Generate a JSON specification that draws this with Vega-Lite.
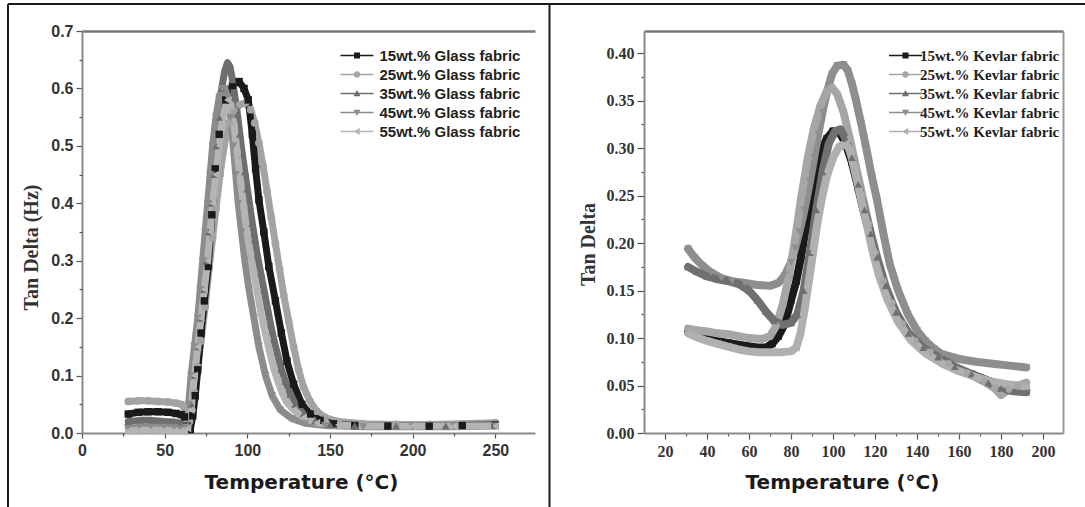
{
  "$schema": "https://vega.github.io/schema/vega-lite/v6.json",
  "background": "white",
  "padding": {"left": 6, "top": 3, "right": 0, "bottom": 0},
  "bounds": "flush",
  "spacing": 109,
  "config": {
    "view": {"stroke": null},
    "axis": {"labelFlush": false, "labelOverlap": false, "grid": false, "domainColor": "#8a8a8a", "domainWidth": 2, "tickColor": "#555", "tickWidth": 1.2}
  },
  "datasets": {
    "glass": [
      {"s":"25wt.% Glass fabric","t":28,"v":0.055},{"s":"25wt.% Glass fabric","t":34,"v":0.056},{"s":"25wt.% Glass fabric","t":40,"v":0.056},{"s":"25wt.% Glass fabric","t":46,"v":0.055},{"s":"25wt.% Glass fabric","t":52,"v":0.054},{"s":"25wt.% Glass fabric","t":57,"v":0.052},{"s":"25wt.% Glass fabric","t":60,"v":0.05},{"s":"25wt.% Glass fabric","t":62,"v":0.044},{"s":"25wt.% Glass fabric","t":63.5,"v":0.025},{"s":"25wt.% Glass fabric","t":65,"v":0.02},{"s":"25wt.% Glass fabric","t":66.5,"v":0.04},{"s":"25wt.% Glass fabric","t":68,"v":0.07},{"s":"25wt.% Glass fabric","t":70,"v":0.115},{"s":"25wt.% Glass fabric","t":72,"v":0.16},{"s":"25wt.% Glass fabric","t":74.5,"v":0.22},{"s":"25wt.% Glass fabric","t":77,"v":0.29},{"s":"25wt.% Glass fabric","t":79,"v":0.34},{"s":"25wt.% Glass fabric","t":81,"v":0.39},{"s":"25wt.% Glass fabric","t":83.5,"v":0.45},{"s":"25wt.% Glass fabric","t":86,"v":0.5},{"s":"25wt.% Glass fabric","t":89,"v":0.54},{"s":"25wt.% Glass fabric","t":92,"v":0.56},{"s":"25wt.% Glass fabric","t":95.5,"v":0.572},{"s":"25wt.% Glass fabric","t":99,"v":0.575},{"s":"25wt.% Glass fabric","t":102,"v":0.563},{"s":"25wt.% Glass fabric","t":104.5,"v":0.54},{"s":"25wt.% Glass fabric","t":107,"v":0.505},{"s":"25wt.% Glass fabric","t":109.5,"v":0.465},{"s":"25wt.% Glass fabric","t":112,"v":0.42},{"s":"25wt.% Glass fabric","t":114.5,"v":0.375},{"s":"25wt.% Glass fabric","t":117,"v":0.33},{"s":"25wt.% Glass fabric","t":119.5,"v":0.285},{"s":"25wt.% Glass fabric","t":122,"v":0.24},{"s":"25wt.% Glass fabric","t":125,"v":0.195},{"s":"25wt.% Glass fabric","t":128,"v":0.15},{"s":"25wt.% Glass fabric","t":131,"v":0.11},{"s":"25wt.% Glass fabric","t":134,"v":0.08},{"s":"25wt.% Glass fabric","t":138,"v":0.055},{"s":"25wt.% Glass fabric","t":142,"v":0.038},{"s":"25wt.% Glass fabric","t":147,"v":0.027},{"s":"25wt.% Glass fabric","t":155,"v":0.02},{"s":"25wt.% Glass fabric","t":170,"v":0.016},{"s":"25wt.% Glass fabric","t":190,"v":0.015},{"s":"25wt.% Glass fabric","t":210,"v":0.015},{"s":"25wt.% Glass fabric","t":230,"v":0.016},{"s":"25wt.% Glass fabric","t":250,"v":0.018},
      {"s":"15wt.% Glass fabric","t":28,"v":0.033},{"s":"15wt.% Glass fabric","t":34,"v":0.036},{"s":"15wt.% Glass fabric","t":40,"v":0.037},{"s":"15wt.% Glass fabric","t":46,"v":0.037},{"s":"15wt.% Glass fabric","t":52,"v":0.036},{"s":"15wt.% Glass fabric","t":57,"v":0.034},{"s":"15wt.% Glass fabric","t":60,"v":0.032},{"s":"15wt.% Glass fabric","t":62,"v":0.028},{"s":"15wt.% Glass fabric","t":63.5,"v":0.012},{"s":"15wt.% Glass fabric","t":65.5,"v":0.006},{"s":"15wt.% Glass fabric","t":67,"v":0.03},{"s":"15wt.% Glass fabric","t":68.5,"v":0.065},{"s":"15wt.% Glass fabric","t":70,"v":0.11},{"s":"15wt.% Glass fabric","t":72,"v":0.174},{"s":"15wt.% Glass fabric","t":74,"v":0.23},{"s":"15wt.% Glass fabric","t":76.4,"v":0.29},{"s":"15wt.% Glass fabric","t":78.5,"v":0.38},{"s":"15wt.% Glass fabric","t":80.6,"v":0.46},{"s":"15wt.% Glass fabric","t":83,"v":0.52},{"s":"15wt.% Glass fabric","t":87,"v":0.58},{"s":"15wt.% Glass fabric","t":91,"v":0.605},{"s":"15wt.% Glass fabric","t":95,"v":0.612},{"s":"15wt.% Glass fabric","t":98,"v":0.6},{"s":"15wt.% Glass fabric","t":100.6,"v":0.58},{"s":"15wt.% Glass fabric","t":103,"v":0.52},{"s":"15wt.% Glass fabric","t":105,"v":0.46},{"s":"15wt.% Glass fabric","t":107,"v":0.406},{"s":"15wt.% Glass fabric","t":110,"v":0.35},{"s":"15wt.% Glass fabric","t":113,"v":0.29},{"s":"15wt.% Glass fabric","t":117,"v":0.23},{"s":"15wt.% Glass fabric","t":120.6,"v":0.174},{"s":"15wt.% Glass fabric","t":124,"v":0.125},{"s":"15wt.% Glass fabric","t":128,"v":0.085},{"s":"15wt.% Glass fabric","t":133,"v":0.05},{"s":"15wt.% Glass fabric","t":138,"v":0.033},{"s":"15wt.% Glass fabric","t":144,"v":0.022},{"s":"15wt.% Glass fabric","t":152,"v":0.016},{"s":"15wt.% Glass fabric","t":165,"v":0.013},{"s":"15wt.% Glass fabric","t":185,"v":0.012},{"s":"15wt.% Glass fabric","t":210,"v":0.012},{"s":"15wt.% Glass fabric","t":230,"v":0.013},{"s":"15wt.% Glass fabric","t":250,"v":0.014},
      {"s":"35wt.% Glass fabric","t":28,"v":0.02},{"s":"35wt.% Glass fabric","t":35,"v":0.022},{"s":"35wt.% Glass fabric","t":42,"v":0.022},{"s":"35wt.% Glass fabric","t":50,"v":0.02},{"s":"35wt.% Glass fabric","t":56,"v":0.019},{"s":"35wt.% Glass fabric","t":60,"v":0.017},{"s":"35wt.% Glass fabric","t":62,"v":0.012},{"s":"35wt.% Glass fabric","t":64,"v":0.015},{"s":"35wt.% Glass fabric","t":66,"v":0.05},{"s":"35wt.% Glass fabric","t":68,"v":0.1},{"s":"35wt.% Glass fabric","t":70,"v":0.15},{"s":"35wt.% Glass fabric","t":71.5,"v":0.2},{"s":"35wt.% Glass fabric","t":73.2,"v":0.25},{"s":"35wt.% Glass fabric","t":75,"v":0.3},{"s":"35wt.% Glass fabric","t":76.5,"v":0.35},{"s":"35wt.% Glass fabric","t":78,"v":0.4},{"s":"35wt.% Glass fabric","t":79.5,"v":0.45},{"s":"35wt.% Glass fabric","t":81,"v":0.5},{"s":"35wt.% Glass fabric","t":82.8,"v":0.55},{"s":"35wt.% Glass fabric","t":84.5,"v":0.6},{"s":"35wt.% Glass fabric","t":86.3,"v":0.63},{"s":"35wt.% Glass fabric","t":88,"v":0.645},{"s":"35wt.% Glass fabric","t":89.5,"v":0.638},{"s":"35wt.% Glass fabric","t":91,"v":0.615},{"s":"35wt.% Glass fabric","t":92.5,"v":0.585},{"s":"35wt.% Glass fabric","t":94,"v":0.555},{"s":"35wt.% Glass fabric","t":95.5,"v":0.52},{"s":"35wt.% Glass fabric","t":97,"v":0.485},{"s":"35wt.% Glass fabric","t":98.5,"v":0.455},{"s":"35wt.% Glass fabric","t":100,"v":0.425},{"s":"35wt.% Glass fabric","t":101.5,"v":0.395},{"s":"35wt.% Glass fabric","t":103,"v":0.365},{"s":"35wt.% Glass fabric","t":104.5,"v":0.338},{"s":"35wt.% Glass fabric","t":106,"v":0.31},{"s":"35wt.% Glass fabric","t":108,"v":0.28},{"s":"35wt.% Glass fabric","t":110,"v":0.25},{"s":"35wt.% Glass fabric","t":112,"v":0.22},{"s":"35wt.% Glass fabric","t":114,"v":0.19},{"s":"35wt.% Glass fabric","t":116,"v":0.163},{"s":"35wt.% Glass fabric","t":118,"v":0.14},{"s":"35wt.% Glass fabric","t":120.5,"v":0.112},{"s":"35wt.% Glass fabric","t":123,"v":0.09},{"s":"35wt.% Glass fabric","t":126,"v":0.068},{"s":"35wt.% Glass fabric","t":129,"v":0.05},{"s":"35wt.% Glass fabric","t":134,"v":0.033},{"s":"35wt.% Glass fabric","t":141,"v":0.021},{"s":"35wt.% Glass fabric","t":150,"v":0.015},{"s":"35wt.% Glass fabric","t":165,"v":0.013},{"s":"35wt.% Glass fabric","t":190,"v":0.012},{"s":"35wt.% Glass fabric","t":220,"v":0.012},{"s":"35wt.% Glass fabric","t":250,"v":0.013},
      {"s":"45wt.% Glass fabric","t":28,"v":0.008},{"s":"45wt.% Glass fabric","t":35,"v":0.01},{"s":"45wt.% Glass fabric","t":42,"v":0.01},{"s":"45wt.% Glass fabric","t":50,"v":0.01},{"s":"45wt.% Glass fabric","t":56,"v":0.009},{"s":"45wt.% Glass fabric","t":60,"v":0.007},{"s":"45wt.% Glass fabric","t":62,"v":0.005},{"s":"45wt.% Glass fabric","t":63,"v":0.01},{"s":"45wt.% Glass fabric","t":64.5,"v":0.05},{"s":"45wt.% Glass fabric","t":66,"v":0.1},{"s":"45wt.% Glass fabric","t":68,"v":0.15},{"s":"45wt.% Glass fabric","t":70,"v":0.2},{"s":"45wt.% Glass fabric","t":71.5,"v":0.25},{"s":"45wt.% Glass fabric","t":73,"v":0.3},{"s":"45wt.% Glass fabric","t":74.5,"v":0.35},{"s":"45wt.% Glass fabric","t":76,"v":0.4},{"s":"45wt.% Glass fabric","t":77.5,"v":0.45},{"s":"45wt.% Glass fabric","t":79,"v":0.5},{"s":"45wt.% Glass fabric","t":81,"v":0.55},{"s":"45wt.% Glass fabric","t":83,"v":0.585},{"s":"45wt.% Glass fabric","t":85,"v":0.6},{"s":"45wt.% Glass fabric","t":86.5,"v":0.6},{"s":"45wt.% Glass fabric","t":88,"v":0.585},{"s":"45wt.% Glass fabric","t":90,"v":0.55},{"s":"45wt.% Glass fabric","t":91.5,"v":0.5},{"s":"45wt.% Glass fabric","t":93,"v":0.45},{"s":"45wt.% Glass fabric","t":94.5,"v":0.4},{"s":"45wt.% Glass fabric","t":96.5,"v":0.35},{"s":"45wt.% Glass fabric","t":98.5,"v":0.3},{"s":"45wt.% Glass fabric","t":101,"v":0.25},{"s":"45wt.% Glass fabric","t":104,"v":0.2},{"s":"45wt.% Glass fabric","t":107,"v":0.15},{"s":"45wt.% Glass fabric","t":111,"v":0.1},{"s":"45wt.% Glass fabric","t":115,"v":0.065},{"s":"45wt.% Glass fabric","t":120,"v":0.04},{"s":"45wt.% Glass fabric","t":127,"v":0.025},{"s":"45wt.% Glass fabric","t":135,"v":0.017},{"s":"45wt.% Glass fabric","t":147,"v":0.013},{"s":"45wt.% Glass fabric","t":170,"v":0.011},{"s":"45wt.% Glass fabric","t":200,"v":0.011},{"s":"45wt.% Glass fabric","t":225,"v":0.011},{"s":"45wt.% Glass fabric","t":250,"v":0.012},
      {"s":"55wt.% Glass fabric","t":28,"v":0.004},{"s":"55wt.% Glass fabric","t":35,"v":0.005},{"s":"55wt.% Glass fabric","t":42,"v":0.005},{"s":"55wt.% Glass fabric","t":50,"v":0.005},{"s":"55wt.% Glass fabric","t":56,"v":0.004},{"s":"55wt.% Glass fabric","t":60,"v":0.004},{"s":"55wt.% Glass fabric","t":62,"v":0.003},{"s":"55wt.% Glass fabric","t":64,"v":0.008},{"s":"55wt.% Glass fabric","t":66,"v":0.04},{"s":"55wt.% Glass fabric","t":68,"v":0.1},{"s":"55wt.% Glass fabric","t":70,"v":0.15},{"s":"55wt.% Glass fabric","t":72,"v":0.2},{"s":"55wt.% Glass fabric","t":74,"v":0.25},{"s":"55wt.% Glass fabric","t":76,"v":0.3},{"s":"55wt.% Glass fabric","t":77.5,"v":0.35},{"s":"55wt.% Glass fabric","t":79,"v":0.4},{"s":"55wt.% Glass fabric","t":81,"v":0.45},{"s":"55wt.% Glass fabric","t":83,"v":0.5},{"s":"55wt.% Glass fabric","t":84.5,"v":0.535},{"s":"55wt.% Glass fabric","t":86,"v":0.56},{"s":"55wt.% Glass fabric","t":88,"v":0.58},{"s":"55wt.% Glass fabric","t":90,"v":0.57},{"s":"55wt.% Glass fabric","t":92,"v":0.535},{"s":"55wt.% Glass fabric","t":94,"v":0.485},{"s":"55wt.% Glass fabric","t":96,"v":0.435},{"s":"55wt.% Glass fabric","t":98,"v":0.39},{"s":"55wt.% Glass fabric","t":100,"v":0.345},{"s":"55wt.% Glass fabric","t":102,"v":0.31},{"s":"55wt.% Glass fabric","t":104,"v":0.277},{"s":"55wt.% Glass fabric","t":106,"v":0.245},{"s":"55wt.% Glass fabric","t":108,"v":0.213},{"s":"55wt.% Glass fabric","t":110,"v":0.185},{"s":"55wt.% Glass fabric","t":112,"v":0.16},{"s":"55wt.% Glass fabric","t":114,"v":0.135},{"s":"55wt.% Glass fabric","t":116,"v":0.112},{"s":"55wt.% Glass fabric","t":118.5,"v":0.09},{"s":"55wt.% Glass fabric","t":121,"v":0.07},{"s":"55wt.% Glass fabric","t":124,"v":0.053},{"s":"55wt.% Glass fabric","t":128,"v":0.04},{"s":"55wt.% Glass fabric","t":134,"v":0.027},{"s":"55wt.% Glass fabric","t":142,"v":0.018},{"s":"55wt.% Glass fabric","t":155,"v":0.014},{"s":"55wt.% Glass fabric","t":175,"v":0.012},{"s":"55wt.% Glass fabric","t":200,"v":0.012},{"s":"55wt.% Glass fabric","t":225,"v":0.012},{"s":"55wt.% Glass fabric","t":250,"v":0.012}
    ],
    "kevlar": [
      {"s":"15wt.% Kevlar fabric","t":31,"v":0.107},{"s":"15wt.% Kevlar fabric","t":36,"v":0.102},{"s":"15wt.% Kevlar fabric","t":42,"v":0.098},{"s":"15wt.% Kevlar fabric","t":50,"v":0.095},{"s":"15wt.% Kevlar fabric","t":58,"v":0.092},{"s":"15wt.% Kevlar fabric","t":64,"v":0.09},{"s":"15wt.% Kevlar fabric","t":68,"v":0.09},{"s":"15wt.% Kevlar fabric","t":71,"v":0.094},{"s":"15wt.% Kevlar fabric","t":74,"v":0.102},{"s":"15wt.% Kevlar fabric","t":77,"v":0.115},{"s":"15wt.% Kevlar fabric","t":80,"v":0.14},{"s":"15wt.% Kevlar fabric","t":82.5,"v":0.16},{"s":"15wt.% Kevlar fabric","t":84.7,"v":0.185},{"s":"15wt.% Kevlar fabric","t":87,"v":0.215},{"s":"15wt.% Kevlar fabric","t":89.7,"v":0.25},{"s":"15wt.% Kevlar fabric","t":92,"v":0.278},{"s":"15wt.% Kevlar fabric","t":94.6,"v":0.298},{"s":"15wt.% Kevlar fabric","t":97,"v":0.31},{"s":"15wt.% Kevlar fabric","t":100,"v":0.318},{"s":"15wt.% Kevlar fabric","t":103,"v":0.317},{"s":"15wt.% Kevlar fabric","t":106,"v":0.305},{"s":"15wt.% Kevlar fabric","t":109,"v":0.285},{"s":"15wt.% Kevlar fabric","t":112,"v":0.258},{"s":"15wt.% Kevlar fabric","t":115,"v":0.23},{"s":"15wt.% Kevlar fabric","t":118,"v":0.205},{"s":"15wt.% Kevlar fabric","t":121,"v":0.18},{"s":"15wt.% Kevlar fabric","t":125,"v":0.152},{"s":"15wt.% Kevlar fabric","t":130,"v":0.125},{"s":"15wt.% Kevlar fabric","t":136,"v":0.103},{"s":"15wt.% Kevlar fabric","t":143,"v":0.088},{"s":"15wt.% Kevlar fabric","t":150,"v":0.078},{"s":"15wt.% Kevlar fabric","t":158,"v":0.069},{"s":"15wt.% Kevlar fabric","t":166,"v":0.062},{"s":"15wt.% Kevlar fabric","t":174,"v":0.055},{"s":"15wt.% Kevlar fabric","t":182,"v":0.049},{"s":"15wt.% Kevlar fabric","t":192,"v":0.045},
      {"s":"45wt.% Kevlar fabric","t":31,"v":0.194},{"s":"45wt.% Kevlar fabric","t":34,"v":0.185},{"s":"45wt.% Kevlar fabric","t":38,"v":0.176},{"s":"45wt.% Kevlar fabric","t":42,"v":0.169},{"s":"45wt.% Kevlar fabric","t":47,"v":0.163},{"s":"45wt.% Kevlar fabric","t":52,"v":0.16},{"s":"45wt.% Kevlar fabric","t":58,"v":0.158},{"s":"45wt.% Kevlar fabric","t":64,"v":0.156},{"s":"45wt.% Kevlar fabric","t":70,"v":0.155},{"s":"45wt.% Kevlar fabric","t":74,"v":0.158},{"s":"45wt.% Kevlar fabric","t":77,"v":0.166},{"s":"45wt.% Kevlar fabric","t":80,"v":0.18},{"s":"45wt.% Kevlar fabric","t":82,"v":0.195},{"s":"45wt.% Kevlar fabric","t":84,"v":0.212},{"s":"45wt.% Kevlar fabric","t":86.4,"v":0.235},{"s":"45wt.% Kevlar fabric","t":89,"v":0.265},{"s":"45wt.% Kevlar fabric","t":91,"v":0.29},{"s":"45wt.% Kevlar fabric","t":93,"v":0.315},{"s":"45wt.% Kevlar fabric","t":95,"v":0.338},{"s":"45wt.% Kevlar fabric","t":97,"v":0.358},{"s":"45wt.% Kevlar fabric","t":99.5,"v":0.378},{"s":"45wt.% Kevlar fabric","t":102,"v":0.387},{"s":"45wt.% Kevlar fabric","t":105,"v":0.388},{"s":"45wt.% Kevlar fabric","t":107,"v":0.382},{"s":"45wt.% Kevlar fabric","t":109,"v":0.368},{"s":"45wt.% Kevlar fabric","t":111,"v":0.35},{"s":"45wt.% Kevlar fabric","t":113.5,"v":0.325},{"s":"45wt.% Kevlar fabric","t":116,"v":0.298},{"s":"45wt.% Kevlar fabric","t":118.5,"v":0.27},{"s":"45wt.% Kevlar fabric","t":121,"v":0.245},{"s":"45wt.% Kevlar fabric","t":124,"v":0.21},{"s":"45wt.% Kevlar fabric","t":127,"v":0.178},{"s":"45wt.% Kevlar fabric","t":131,"v":0.15},{"s":"45wt.% Kevlar fabric","t":135.6,"v":0.125},{"s":"45wt.% Kevlar fabric","t":140,"v":0.108},{"s":"45wt.% Kevlar fabric","t":144,"v":0.097},{"s":"45wt.% Kevlar fabric","t":148,"v":0.089},{"s":"45wt.% Kevlar fabric","t":152,"v":0.083},{"s":"45wt.% Kevlar fabric","t":160,"v":0.078},{"s":"45wt.% Kevlar fabric","t":168,"v":0.075},{"s":"45wt.% Kevlar fabric","t":176,"v":0.073},{"s":"45wt.% Kevlar fabric","t":184,"v":0.071},{"s":"45wt.% Kevlar fabric","t":192,"v":0.069},
      {"s":"25wt.% Kevlar fabric","t":31,"v":0.11},{"s":"25wt.% Kevlar fabric","t":36,"v":0.108},{"s":"25wt.% Kevlar fabric","t":40,"v":0.107},{"s":"25wt.% Kevlar fabric","t":45,"v":0.105},{"s":"25wt.% Kevlar fabric","t":50,"v":0.104},{"s":"25wt.% Kevlar fabric","t":55,"v":0.102},{"s":"25wt.% Kevlar fabric","t":60,"v":0.1},{"s":"25wt.% Kevlar fabric","t":66,"v":0.099},{"s":"25wt.% Kevlar fabric","t":70,"v":0.102},{"s":"25wt.% Kevlar fabric","t":73,"v":0.113},{"s":"25wt.% Kevlar fabric","t":76,"v":0.135},{"s":"25wt.% Kevlar fabric","t":79,"v":0.165},{"s":"25wt.% Kevlar fabric","t":82,"v":0.205},{"s":"25wt.% Kevlar fabric","t":85,"v":0.25},{"s":"25wt.% Kevlar fabric","t":88,"v":0.29},{"s":"25wt.% Kevlar fabric","t":91,"v":0.322},{"s":"25wt.% Kevlar fabric","t":94,"v":0.345},{"s":"25wt.% Kevlar fabric","t":97,"v":0.36},{"s":"25wt.% Kevlar fabric","t":99.5,"v":0.364},{"s":"25wt.% Kevlar fabric","t":102,"v":0.357},{"s":"25wt.% Kevlar fabric","t":105,"v":0.338},{"s":"25wt.% Kevlar fabric","t":108,"v":0.31},{"s":"25wt.% Kevlar fabric","t":111,"v":0.28},{"s":"25wt.% Kevlar fabric","t":114,"v":0.25},{"s":"25wt.% Kevlar fabric","t":117,"v":0.22},{"s":"25wt.% Kevlar fabric","t":120,"v":0.19},{"s":"25wt.% Kevlar fabric","t":124,"v":0.16},{"s":"25wt.% Kevlar fabric","t":128,"v":0.137},{"s":"25wt.% Kevlar fabric","t":133,"v":0.115},{"s":"25wt.% Kevlar fabric","t":139,"v":0.097},{"s":"25wt.% Kevlar fabric","t":146,"v":0.085},{"s":"25wt.% Kevlar fabric","t":155,"v":0.073},{"s":"25wt.% Kevlar fabric","t":164,"v":0.063},{"s":"25wt.% Kevlar fabric","t":172,"v":0.054},{"s":"25wt.% Kevlar fabric","t":177,"v":0.047},{"s":"25wt.% Kevlar fabric","t":180,"v":0.04},{"s":"25wt.% Kevlar fabric","t":184,"v":0.046},{"s":"25wt.% Kevlar fabric","t":188,"v":0.05},{"s":"25wt.% Kevlar fabric","t":192,"v":0.053},
      {"s":"35wt.% Kevlar fabric","t":31,"v":0.175},{"s":"35wt.% Kevlar fabric","t":35,"v":0.17},{"s":"35wt.% Kevlar fabric","t":40,"v":0.165},{"s":"35wt.% Kevlar fabric","t":45,"v":0.162},{"s":"35wt.% Kevlar fabric","t":50,"v":0.16},{"s":"35wt.% Kevlar fabric","t":55,"v":0.157},{"s":"35wt.% Kevlar fabric","t":60,"v":0.15},{"s":"35wt.% Kevlar fabric","t":64,"v":0.14},{"s":"35wt.% Kevlar fabric","t":68,"v":0.128},{"s":"35wt.% Kevlar fabric","t":72,"v":0.118},{"s":"35wt.% Kevlar fabric","t":76,"v":0.114},{"s":"35wt.% Kevlar fabric","t":80,"v":0.116},{"s":"35wt.% Kevlar fabric","t":83,"v":0.125},{"s":"35wt.% Kevlar fabric","t":86,"v":0.15},{"s":"35wt.% Kevlar fabric","t":89,"v":0.19},{"s":"35wt.% Kevlar fabric","t":92,"v":0.235},{"s":"35wt.% Kevlar fabric","t":95,"v":0.275},{"s":"35wt.% Kevlar fabric","t":98,"v":0.305},{"s":"35wt.% Kevlar fabric","t":101,"v":0.318},{"s":"35wt.% Kevlar fabric","t":103.5,"v":0.32},{"s":"35wt.% Kevlar fabric","t":106,"v":0.31},{"s":"35wt.% Kevlar fabric","t":109,"v":0.29},{"s":"35wt.% Kevlar fabric","t":112,"v":0.262},{"s":"35wt.% Kevlar fabric","t":115,"v":0.235},{"s":"35wt.% Kevlar fabric","t":118,"v":0.21},{"s":"35wt.% Kevlar fabric","t":121,"v":0.185},{"s":"35wt.% Kevlar fabric","t":125,"v":0.155},{"s":"35wt.% Kevlar fabric","t":130,"v":0.127},{"s":"35wt.% Kevlar fabric","t":136,"v":0.105},{"s":"35wt.% Kevlar fabric","t":143,"v":0.09},{"s":"35wt.% Kevlar fabric","t":150,"v":0.08},{"s":"35wt.% Kevlar fabric","t":158,"v":0.07},{"s":"35wt.% Kevlar fabric","t":166,"v":0.062},{"s":"35wt.% Kevlar fabric","t":174,"v":0.053},{"s":"35wt.% Kevlar fabric","t":180,"v":0.047},{"s":"35wt.% Kevlar fabric","t":186,"v":0.044},{"s":"35wt.% Kevlar fabric","t":192,"v":0.043},
      {"s":"55wt.% Kevlar fabric","t":31,"v":0.105},{"s":"55wt.% Kevlar fabric","t":36,"v":0.1},{"s":"55wt.% Kevlar fabric","t":40,"v":0.097},{"s":"55wt.% Kevlar fabric","t":45,"v":0.094},{"s":"55wt.% Kevlar fabric","t":50,"v":0.091},{"s":"55wt.% Kevlar fabric","t":55,"v":0.088},{"s":"55wt.% Kevlar fabric","t":60,"v":0.086},{"s":"55wt.% Kevlar fabric","t":65,"v":0.085},{"s":"55wt.% Kevlar fabric","t":70,"v":0.085},{"s":"55wt.% Kevlar fabric","t":75,"v":0.085},{"s":"55wt.% Kevlar fabric","t":80,"v":0.086},{"s":"55wt.% Kevlar fabric","t":82.5,"v":0.09},{"s":"55wt.% Kevlar fabric","t":84.5,"v":0.105},{"s":"55wt.% Kevlar fabric","t":86.5,"v":0.13},{"s":"55wt.% Kevlar fabric","t":88.5,"v":0.16},{"s":"55wt.% Kevlar fabric","t":90.5,"v":0.19},{"s":"55wt.% Kevlar fabric","t":92.5,"v":0.22},{"s":"55wt.% Kevlar fabric","t":94.5,"v":0.245},{"s":"55wt.% Kevlar fabric","t":97,"v":0.27},{"s":"55wt.% Kevlar fabric","t":100,"v":0.29},{"s":"55wt.% Kevlar fabric","t":103,"v":0.302},{"s":"55wt.% Kevlar fabric","t":106,"v":0.305},{"s":"55wt.% Kevlar fabric","t":108,"v":0.298},{"s":"55wt.% Kevlar fabric","t":110,"v":0.28},{"s":"55wt.% Kevlar fabric","t":113,"v":0.25},{"s":"55wt.% Kevlar fabric","t":116,"v":0.22},{"s":"55wt.% Kevlar fabric","t":119,"v":0.19},{"s":"55wt.% Kevlar fabric","t":122,"v":0.165},{"s":"55wt.% Kevlar fabric","t":126,"v":0.14},{"s":"55wt.% Kevlar fabric","t":131,"v":0.117},{"s":"55wt.% Kevlar fabric","t":137,"v":0.098},{"s":"55wt.% Kevlar fabric","t":144,"v":0.084},{"s":"55wt.% Kevlar fabric","t":152,"v":0.073},{"s":"55wt.% Kevlar fabric","t":160,"v":0.065},{"s":"55wt.% Kevlar fabric","t":168,"v":0.059},{"s":"55wt.% Kevlar fabric","t":176,"v":0.054},{"s":"55wt.% Kevlar fabric","t":184,"v":0.051},{"s":"55wt.% Kevlar fabric","t":192,"v":0.049}
    ]
  },
  "hconcat": [
    {
      "width": 453,
      "height": 402,
      "data": {"name": "glass"},
      "layer": [
        {
          "data": {"values": [{}]},
          "mark": {"type": "rule", "color": "#1a1a1a", "strokeWidth": 2, "clip": false},
          "encoding": {
            "x": {"datum": -44.76, "type": "quantitative", "scale": {"domain": [0, 274], "nice": false, "zero": false}, "axis": null},
            "x2": {"datum": 607.5},
            "y": {"datum": 0.747, "type": "quantitative", "scale": {"domain": [0, 0.7], "nice": false}, "axis": null}
          }
        },
        {
          "data": {"values": [{}]},
          "mark": {"type": "rule", "color": "#1a1a1a", "strokeWidth": 2, "clip": false},
          "encoding": {
            "x": {"datum": -44.76, "type": "quantitative", "scale": {"domain": [0, 274], "nice": false, "zero": false}, "axis": null},
            "y": {"datum": 0.747, "type": "quantitative", "scale": {"domain": [0, 0.7], "nice": false}, "axis": null},
            "y2": {"datum": -0.134}
          }
        },
        {
          "data": {"values": [{}]},
          "mark": {"type": "rule", "color": "#1a1a1a", "strokeWidth": 2, "clip": false},
          "encoding": {
            "x": {"datum": 282.76, "type": "quantitative", "scale": {"domain": [0, 274], "nice": false, "zero": false}, "axis": null},
            "y": {"datum": 0.747, "type": "quantitative", "scale": {"domain": [0, 0.7], "nice": false}, "axis": null},
            "y2": {"datum": -0.134}
          }
        },
        {
          "mark": {"type": "line", "strokeWidth": 7, "strokeJoin": "round", "strokeCap": "round"},
          "encoding": {
            "x": {"field": "t", "type": "quantitative", "scale": {"domain": [0, 274], "nice": false, "zero": false},
              "axis": {"orient": "bottom", "values": [0, 50, 100, 150, 200, 250], "tickSize": 5, "labelPadding": 4, "labelFont": "Liberation Sans", "labelFontSize": 16, "labelFontWeight": "bold", "labelColor": "#333",
                "title": "Temperature (°C)", "titleFont": "DejaVu Sans", "titleFontSize": 20, "titleFontWeight": "bold", "titleColor": "#1a1a1a", "titleX": 219, "titleY": 55, "titleAlign": "center", "titleBaseline": "alphabetic"}},
            "y": {"field": "v", "type": "quantitative", "scale": {"domain": [0, 0.7], "nice": false},
              "axis": {"orient": "left", "values": [0, 0.1, 0.2, 0.3, 0.4, 0.5, 0.6, 0.7], "format": ".1f", "tickSize": 6, "labelPadding": 3, "labelFont": "Liberation Sans", "labelFontSize": 16, "labelFontWeight": "bold", "labelColor": "#333",
                "title": "Tan Delta (Hz)", "titleFont": "Liberation Serif", "titleFontSize": 20, "titleFontWeight": "bold", "titleColor": "#333", "titleX": -51, "titleY": 216, "titleAngle": 270, "titleAlign": "center", "titleBaseline": "middle"}},
            "color": {"field": "s", "type": "nominal", "legend": null,
              "scale": {"domain": ["15wt.% Glass fabric", "25wt.% Glass fabric", "35wt.% Glass fabric", "45wt.% Glass fabric", "55wt.% Glass fabric"], "range": ["#1a1a1a", "#a3a3a3", "#6e6e6e", "#8c8c8c", "#b4b4b4"]}}
          }
        },
        {
          "transform": [{"filter": "datum.s === '25wt.% Glass fabric'"}],
          "mark": {"type": "point", "shape": "circle", "filled": true, "size": 60, "opacity": 1, "color": "#a3a3a3"},
          "encoding": {
            "x": {"field": "t", "type": "quantitative", "scale": {"domain": [0, 274], "nice": false, "zero": false},
              "axis": {"orient": "bottom", "values": [25, 75, 125, 175, 225], "tickSize": 3, "labels": false, "domain": false, "title": null}},
            "y": {"field": "v", "type": "quantitative", "scale": {"domain": [0, 0.7], "nice": false},
              "axis": {"orient": "left", "values": [0.05, 0.15, 0.25, 0.35, 0.45, 0.55, 0.65], "tickSize": 3, "labels": false, "domain": false, "title": null}}
          }
        },
        {
          "transform": [{"filter": "datum.s === '15wt.% Glass fabric'"}],
          "mark": {"type": "point", "shape": "square", "filled": true, "size": 55, "opacity": 1, "color": "#1a1a1a"},
          "encoding": {
            "x": {"field": "t", "type": "quantitative", "scale": {"domain": [0, 274], "nice": false, "zero": false}, "axis": null},
            "y": {"field": "v", "type": "quantitative", "scale": {"domain": [0, 0.7], "nice": false}, "axis": null}
          }
        },
        {
          "transform": [{"filter": "datum.s === '35wt.% Glass fabric'"}],
          "mark": {"type": "point", "shape": "triangle-up", "filled": true, "size": 65, "opacity": 1, "color": "#6e6e6e"},
          "encoding": {
            "x": {"field": "t", "type": "quantitative", "scale": {"domain": [0, 274], "nice": false, "zero": false}, "axis": null},
            "y": {"field": "v", "type": "quantitative", "scale": {"domain": [0, 0.7], "nice": false}, "axis": null}
          }
        },
        {
          "transform": [{"filter": "datum.s === '45wt.% Glass fabric'"}],
          "mark": {"type": "point", "shape": "triangle-down", "filled": true, "size": 65, "opacity": 1, "color": "#8c8c8c"},
          "encoding": {
            "x": {"field": "t", "type": "quantitative", "scale": {"domain": [0, 274], "nice": false, "zero": false}, "axis": null},
            "y": {"field": "v", "type": "quantitative", "scale": {"domain": [0, 0.7], "nice": false}, "axis": null}
          }
        },
        {
          "transform": [{"filter": "datum.s === '55wt.% Glass fabric'"}],
          "mark": {"type": "point", "shape": "triangle-left", "filled": true, "size": 65, "opacity": 1, "color": "#b4b4b4"},
          "encoding": {
            "x": {"field": "t", "type": "quantitative", "scale": {"domain": [0, 274], "nice": false, "zero": false}, "axis": null},
            "y": {"field": "v", "type": "quantitative", "scale": {"domain": [0, 0.7], "nice": false}, "axis": null}
          }
        },
        {
          "mark": {"type": "point", "opacity": 0},
          "encoding": {
            "x": {"field": "t", "type": "quantitative", "scale": {"domain": [0, 274], "nice": false, "zero": false},
              "axis": {"orient": "top", "ticks": false, "labels": false, "title": null, "domainColor": "#777", "domainWidth": 2.5}},
            "y": {"field": "v", "type": "quantitative", "scale": {"domain": [0, 0.7], "nice": false}, "axis": null}
          }
        },
        {
          "data": {"values": [{"s": "15wt.% Glass fabric"}, {"s": "25wt.% Glass fabric"}, {"s": "35wt.% Glass fabric"}, {"s": "45wt.% Glass fabric"}, {"s": "55wt.% Glass fabric"}]},
          "mark": {"type": "point", "filled": true, "opacity": 0},
          "encoding": {
            "color": {"field": "s", "type": "nominal",
              "scale": {"domain": ["15wt.% Glass fabric", "25wt.% Glass fabric", "35wt.% Glass fabric", "45wt.% Glass fabric", "55wt.% Glass fabric"], "range": ["#1a1a1a", "#a3a3a3", "#6e6e6e", "#8c8c8c", "#b4b4b4"]},
              "legend": {"orient": "none", "legendX": 267.5, "legendY": 17, "title": null, "padding": 0, "symbolSize": 121, "symbolStrokeWidth": 0, "symbolOpacity": 1, "labelOffset": 15, "rowPadding": 3, "labelFont": "Liberation Sans", "labelFontSize": 15, "labelFontWeight": "bold", "labelColor": "#222", "labelLimit": 0}},
            "shape": {"field": "s", "type": "nominal",
              "scale": {"domain": ["15wt.% Glass fabric", "25wt.% Glass fabric", "35wt.% Glass fabric", "45wt.% Glass fabric", "55wt.% Glass fabric"],
                "range": ["M-3,-0.13H3V0.13H-3ZM-0.55,-0.55H0.55V0.55H-0.55Z", "M-3,-0.13H3V0.13H-3ZM0.6,0A0.6,0.6,0,1,1,-0.6,0A0.6,0.6,0,1,1,0.6,0Z", "M-3,-0.13H3V0.13H-3ZM0,-0.65L0.65,0.5L-0.65,0.5Z", "M-3,-0.13H3V0.13H-3ZM0,0.65L-0.65,-0.5L0.65,-0.5Z", "M-3,-0.13H3V0.13H-3ZM-0.65,0L0.5,-0.65L0.5,0.65Z"]},
              "legend": {"orient": "none", "legendX": 267.5, "legendY": 17, "title": null, "padding": 0, "symbolSize": 121, "symbolStrokeWidth": 0, "symbolOpacity": 1, "labelOffset": 15, "rowPadding": 3, "labelFont": "Liberation Sans", "labelFontSize": 15, "labelFontWeight": "bold", "labelColor": "#222", "labelLimit": 0}}
          }
        }
      ],
      "resolve": {"scale": {"color": "independent", "shape": "independent"}, "axis": {"x": "independent", "y": "independent"}}
    },
    {
      "width": 419,
      "height": 402,
      "data": {"name": "kevlar"},
      "layer": [
        {
          "transform": [{"filter": "datum.s === '15wt.% Kevlar fabric'"}],
          "mark": {"type": "point", "shape": "square", "filled": true, "size": 50, "opacity": 1, "color": "#1a1a1a"},
          "encoding": {
            "x": {"field": "t", "type": "quantitative", "scale": {"domain": [10, 209.5], "nice": false, "zero": false},
              "axis": {"orient": "bottom", "values": [30, 50, 70, 90, 110, 130, 150, 170, 190], "tickSize": 3, "labels": false, "domain": false, "title": null}},
            "y": {"field": "v", "type": "quantitative", "scale": {"domain": [0, 0.4235], "nice": false},
              "axis": {"orient": "left", "values": [0.025, 0.075, 0.125, 0.175, 0.225, 0.275, 0.325, 0.375], "tickSize": 3, "labels": false, "domain": false, "title": null}}
          }
        },
        {
          "mark": {"type": "line", "strokeWidth": 8, "strokeJoin": "round", "strokeCap": "round"},
          "encoding": {
            "x": {"field": "t", "type": "quantitative", "scale": {"domain": [10, 209.5], "nice": false, "zero": false},
              "axis": {"orient": "bottom", "values": [20, 40, 60, 80, 100, 120, 140, 160, 180, 200], "tickSize": 6, "labelPadding": 4, "labelFont": "Liberation Serif", "labelFontSize": 16, "labelFontWeight": "bold", "labelColor": "#333",
                "title": "Temperature (°C)", "titleFont": "DejaVu Sans", "titleFontSize": 20, "titleFontWeight": "bold", "titleColor": "#1a1a1a", "titleX": 198, "titleY": 55, "titleAlign": "center", "titleBaseline": "alphabetic"}},
            "y": {"field": "v", "type": "quantitative", "scale": {"domain": [0, 0.4235], "nice": false},
              "axis": {"orient": "left", "values": [0, 0.05, 0.1, 0.15, 0.2, 0.25, 0.3, 0.35, 0.4], "format": ".2f", "tickSize": 7, "labelPadding": 3, "labelFont": "Liberation Serif", "labelFontSize": 16, "labelFontWeight": "bold", "labelColor": "#333",
                "title": "Tan Delta", "titleFont": "Liberation Serif", "titleFontSize": 20, "titleFontWeight": "bold", "titleColor": "#333", "titleX": -56, "titleY": 213, "titleAngle": 270, "titleAlign": "center", "titleBaseline": "middle"}},
            "color": {"field": "s", "type": "nominal", "legend": null,
              "scale": {"domain": ["15wt.% Kevlar fabric", "25wt.% Kevlar fabric", "35wt.% Kevlar fabric", "45wt.% Kevlar fabric", "55wt.% Kevlar fabric"], "range": ["#1a1a1a", "#a6a6a6", "#707070", "#8e8e8e", "#b0b0b0"]}}
          }
        },
        {
          "transform": [{"filter": "datum.s === '45wt.% Kevlar fabric'"}],
          "mark": {"type": "point", "shape": "triangle-down", "filled": true, "size": 60, "opacity": 1, "color": "#8e8e8e"},
          "encoding": {
            "x": {"field": "t", "type": "quantitative", "scale": {"domain": [10, 209.5], "nice": false, "zero": false}, "axis": null},
            "y": {"field": "v", "type": "quantitative", "scale": {"domain": [0, 0.4235], "nice": false}, "axis": null}
          }
        },
        {
          "transform": [{"filter": "datum.s === '25wt.% Kevlar fabric'"}],
          "mark": {"type": "point", "shape": "circle", "filled": true, "size": 55, "opacity": 1, "color": "#a6a6a6"},
          "encoding": {
            "x": {"field": "t", "type": "quantitative", "scale": {"domain": [10, 209.5], "nice": false, "zero": false}, "axis": null},
            "y": {"field": "v", "type": "quantitative", "scale": {"domain": [0, 0.4235], "nice": false}, "axis": null}
          }
        },
        {
          "transform": [{"filter": "datum.s === '35wt.% Kevlar fabric'"}],
          "mark": {"type": "point", "shape": "triangle-up", "filled": true, "size": 60, "opacity": 1, "color": "#707070"},
          "encoding": {
            "x": {"field": "t", "type": "quantitative", "scale": {"domain": [10, 209.5], "nice": false, "zero": false}, "axis": null},
            "y": {"field": "v", "type": "quantitative", "scale": {"domain": [0, 0.4235], "nice": false}, "axis": null}
          }
        },
        {
          "transform": [{"filter": "datum.s === '55wt.% Kevlar fabric'"}],
          "mark": {"type": "point", "shape": "triangle-left", "filled": true, "size": 60, "opacity": 1, "color": "#b0b0b0"},
          "encoding": {
            "x": {"field": "t", "type": "quantitative", "scale": {"domain": [10, 209.5], "nice": false, "zero": false}, "axis": null},
            "y": {"field": "v", "type": "quantitative", "scale": {"domain": [0, 0.4235], "nice": false}, "axis": null}
          }
        },
        {
          "mark": {"type": "point", "opacity": 0},
          "encoding": {
            "x": {"field": "t", "type": "quantitative", "scale": {"domain": [10, 209.5], "nice": false, "zero": false},
              "axis": {"orient": "top", "ticks": false, "labels": false, "title": null, "domainColor": "#777", "domainWidth": 2.5}},
            "y": {"field": "v", "type": "quantitative", "scale": {"domain": [0, 0.4235], "nice": false},
              "axis": {"orient": "right", "ticks": false, "labels": false, "title": null, "domainColor": "#999", "domainWidth": 2}}
          }
        },
        {
          "data": {"values": [{"s": "15wt.% Kevlar fabric"}, {"s": "25wt.% Kevlar fabric"}, {"s": "35wt.% Kevlar fabric"}, {"s": "45wt.% Kevlar fabric"}, {"s": "55wt.% Kevlar fabric"}]},
          "mark": {"type": "point", "filled": true, "opacity": 0},
          "encoding": {
            "color": {"field": "s", "type": "nominal",
              "scale": {"domain": ["15wt.% Kevlar fabric", "25wt.% Kevlar fabric", "35wt.% Kevlar fabric", "45wt.% Kevlar fabric", "55wt.% Kevlar fabric"], "range": ["#1a1a1a", "#a6a6a6", "#707070", "#8e8e8e", "#b0b0b0"]},
              "legend": {"orient": "none", "legendX": 254, "legendY": 17, "title": null, "padding": 0, "symbolSize": 121, "symbolStrokeWidth": 0, "symbolOpacity": 1, "labelOffset": 7, "rowPadding": 3, "labelFont": "Liberation Serif", "labelFontSize": 15, "labelFontWeight": "bold", "labelColor": "#222", "labelLimit": 0}},
            "shape": {"field": "s", "type": "nominal",
              "scale": {"domain": ["15wt.% Kevlar fabric", "25wt.% Kevlar fabric", "35wt.% Kevlar fabric", "45wt.% Kevlar fabric", "55wt.% Kevlar fabric"],
                "range": ["M-3,-0.13H3V0.13H-3ZM-0.55,-0.55H0.55V0.55H-0.55Z", "M-3,-0.13H3V0.13H-3ZM0.6,0A0.6,0.6,0,1,1,-0.6,0A0.6,0.6,0,1,1,0.6,0Z", "M-3,-0.13H3V0.13H-3ZM0,-0.65L0.65,0.5L-0.65,0.5Z", "M-3,-0.13H3V0.13H-3ZM0,0.65L-0.65,-0.5L0.65,-0.5Z", "M-3,-0.13H3V0.13H-3ZM-0.65,0L0.5,-0.65L0.5,0.65Z"]},
              "legend": {"orient": "none", "legendX": 254, "legendY": 17, "title": null, "padding": 0, "symbolSize": 121, "symbolStrokeWidth": 0, "symbolOpacity": 1, "labelOffset": 7, "rowPadding": 3, "labelFont": "Liberation Serif", "labelFontSize": 15, "labelFontWeight": "bold", "labelColor": "#222", "labelLimit": 0}}
          }
        }
      ],
      "resolve": {"scale": {"color": "independent", "shape": "independent"}, "axis": {"x": "independent", "y": "independent"}}
    }
  ]
}
